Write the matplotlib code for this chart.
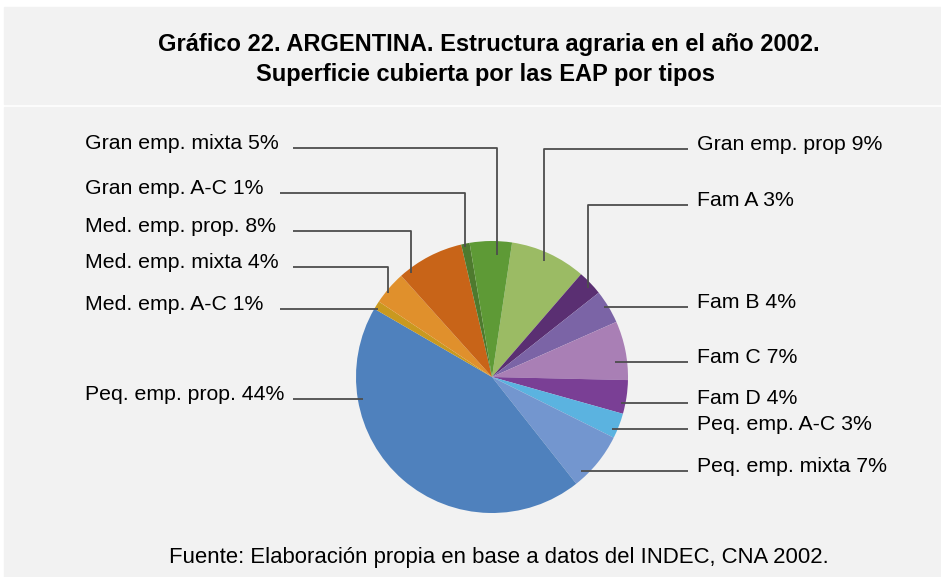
import numpy as np
import matplotlib.pyplot as plt
from matplotlib.patches import Rectangle

# Data (clockwise from the top of the pie)
labels = ["Gran emp. prop", "Fam A", "Fam B", "Fam C", "Fam D",
          "Peq. emp. A-C", "Peq. emp. mixta", "Peq. emp. prop.",
          "Med. emp. A-C", "Med. emp. mixta", "Med. emp. prop.",
          "Gran emp. A-C", "Gran emp. mixta"]
shares = [9, 3, 4, 7, 4, 3, 7, 44, 1, 4, 8, 1, 5]

colors = ["#9BBB64", "#5A2F72", "#7B64A6", "#A97FB5", "#7A3F95",
          "#5BB3E0", "#7396CF", "#4F81BD",
          "#C9991F", "#E0902C", "#C86418",
          "#4E7A2E", "#5E9A36"]

# Label layout in image pixels: text x, leader polyline
text_x = [697, 697, 697, 697, 697, 697, 697, 85, 85, 85, 85, 85, 85]
leaders = [
    [(688, 149), (544, 149), (544, 261)],
    [(688, 205), (588, 205), (588, 288)],
    [(688, 307), (604, 307)],
    [(688, 362), (615, 362)],
    [(688, 403), (621, 403)],
    [(688, 429), (612, 429)],
    [(688, 471), (581, 471)],
    [(293, 399), (363, 399)],
    [(280, 309), (378, 309)],
    [(293, 267), (388, 267), (388, 293)],
    [(293, 231), (411, 231), (411, 273)],
    [(280, 193), (465, 193), (465, 247)],
    [(293, 148), (497, 148), (497, 255)],
]

W, H = 941, 577
bg = "#F2F2F2"

def fy(y):
    # image y (top down) -> axes y (bottom up)
    return H - y

fig = plt.figure(figsize=(W / 100, H / 100), dpi=100, facecolor="white")
ax = fig.add_axes([0, 0, 1, 1])

# Pie, starting a little right of 12 o'clock and going clockwise
ax.pie(shares, colors=colors, startangle=81.5, counterclock=False,
       center=(492, fy(377)), radius=136,
       wedgeprops=dict(linewidth=0))

ax.set_xlim(0, W)
ax.set_ylim(0, H)
ax.set_aspect("equal")
ax.axis("off")

# Background panels
fig.patches.append(Rectangle((4 / W, fy(104) / H), 1, (104 - 7) / H,
                             transform=fig.transFigure, color=bg, zorder=-10))
fig.patches.append(Rectangle((4 / W, 0), 1, fy(107) / H,
                             transform=fig.transFigure, color=bg, zorder=-10))

# Labels and leader lines
font = "Liberation Sans"
for name, val, tx, pts in zip(labels, shares, text_x, leaders):
    xs = [p[0] for p in pts]
    ys = [fy(p[1]) for p in pts]
    ax.plot(xs, ys, color="#4D4D4D", lw=1.3, solid_capstyle="butt")
    ax.text(tx, fy(pts[0][1] + 1), "%s %d%%" % (name, val),
            ha="left", va="baseline", fontsize=15.3, family=font, color="black")

# Title
ax.text(489, fy(45), "Gráfico 22. ARGENTINA. Estructura agraria en el año 2002.",
        ha="center", va="center", fontsize=17, fontweight="bold", family=font)
ax.text(486, fy(75), "Superficie cubierta por las EAP por tipos",
        ha="center", va="center", fontsize=17, fontweight="bold", family=font)

# Source
ax.text(499, fy(557), "Fuente: Elaboración propia en base a datos del INDEC, CNA 2002.",
        ha="center", va="center", fontsize=15.9, family=font)

fig.savefig("out.png", dpi=100, facecolor="white")
